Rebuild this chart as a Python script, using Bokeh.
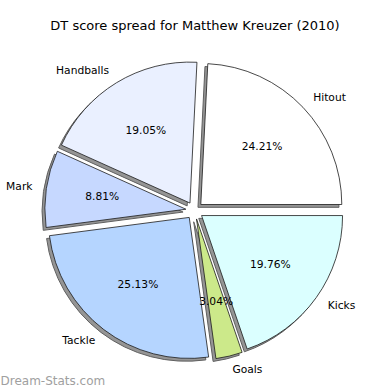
import numpy as np
from bokeh.plotting import figure
from bokeh.models import Range1d, ColumnDataSource
from bokeh.core.properties import value
from bokeh.embed import file_html
from bokeh.resources import INLINE

title = "DT score spread for Matthew Kreuzer (2010)"
categories = ["Hitout", "Handballs", "Mark", "Tackle", "Goals", "Kicks"]
percentages = [24.21, 19.05, 8.81, 25.13, 3.04, 19.76]
colors = ["#ffffff", "#eaf0ff", "#c6d8ff", "#b5d5ff", "#cce98a", "#dbffff"]
watermark = "Dream-Stats.com"

FONT = value("DejaVu Sans")
W = H = 390
p = figure(width=W, height=H, x_range=Range1d(0, 390), y_range=Range1d(0, 390),
           output_backend="svg", toolbar_location=None, x_axis_type=None,
           y_axis_type=None, min_border=0, outline_line_color=None)
p.grid.visible = False
p.background_fill_color = "white"
p.border_fill_color = "white"

cx, cy = 194.0, 180.0   # data coords: window y = 390 - y
R = 141.0
e = 8.7
vals = np.array(percentages, dtype=float)
frac = vals / vals.sum()
ends = 2 * np.pi * np.cumsum(frac)
starts = ends - 2 * np.pi * frac
mids = (starts + ends) / 2
ox = cx + e * np.cos(mids)
oy = cy + e * np.sin(mids)

src = ColumnDataSource(dict(
    x=ox, y=oy, sx=ox - 0.02 * R, sy=oy - 0.02 * R,
    start=starts, end=ends, color=colors,
    lx=ox + 1.1 * R * np.cos(mids), ly=oy + 1.1 * R * np.sin(mids),
    align=["left" if np.cos(m) > 0 else "right" for m in mids],
    label=categories,
    px=ox + 0.6 * R * np.cos(mids), py=oy + 0.6 * R * np.sin(mids),
    pct=["%.2f%%" % v for v in percentages],
))

p.wedge(x="sx", y="sy", radius=R, start_angle="start", end_angle="end",
        source=src, fill_color="#959595", line_color="#606060", line_width=1)
p.wedge(x="x", y="y", radius=R, start_angle="start", end_angle="end",
        source=src, fill_color="color", line_color="#1a1a1a", line_width=0.8)

p.text(x="lx", y="ly", text="label", source=src, text_align="align",
       text_baseline="middle", text_font=FONT, text_font_size="10.7px",
       text_color="black")
p.text(x="px", y="py", text="pct", source=src, text_align="center",
       text_baseline="middle", text_font=FONT, text_font_size="10.7px",
       text_color="black")

p.text(x=[194.5], y=[390 - 25], text=[title], text_align="center",
       text_baseline="middle", text_font=FONT, text_font_size="13px",
       text_color="black")
p.text(x=[0], y=[390 - 380], text=[watermark], text_align="left",
       text_baseline="middle", text_font=FONT, text_font_size="12px",
       text_color="#a0a0a0")

open("out.html", "w").write(file_html(p, INLINE))
